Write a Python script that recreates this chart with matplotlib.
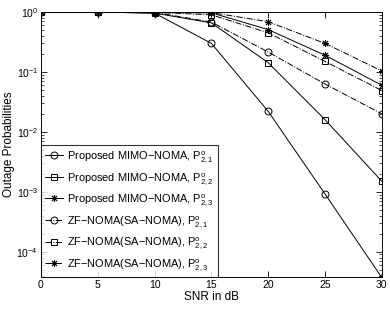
import matplotlib
matplotlib.use("Agg")
import matplotlib.pyplot as plt

plt.rcParams["font.family"] = ["Liberation Sans", "DejaVu Sans"]
plt.rcParams["mathtext.fontset"] = "custom"
plt.rcParams["mathtext.rm"] = "Liberation Sans"

snr = [0, 5, 10, 15, 20, 25, 30]

# Proposed MIMO-NOMA
prop_21 = [1.0, 1.0, 0.96, 0.30, 0.022, 9.2e-4, 3.7e-5]
prop_22 = [1.0, 1.0, 0.96, 0.66, 0.143, 0.016, 1.5e-3]
prop_23 = [1.0, 1.0, 0.98, 0.97, 0.51, 0.19, 0.06]

# ZF-NOMA (SA-NOMA)
zf_21 = [1.0, 1.0, 0.99, 0.68, 0.215, 0.063, 0.020]
zf_22 = [1.0, 1.0, 0.99, 0.90, 0.45, 0.15, 0.049]
zf_23 = [1.0, 1.0, 0.99, 0.98, 0.69, 0.30, 0.104]

labels = [
    r"Proposed MIMO$-$NOMA, $\mathregular{P^{o}_{2,1}}$",
    r"Proposed MIMO$-$NOMA, $\mathregular{P^{o}_{2,2}}$",
    r"Proposed MIMO$-$NOMA, $\mathregular{P^{o}_{2,3}}$",
    r"ZF$-$NOMA(SA$-$NOMA), $\mathregular{P^{o}_{2,1}}$",
    r"ZF$-$NOMA(SA$-$NOMA), $\mathregular{P^{o}_{2,2}}$",
    r"ZF$-$NOMA(SA$-$NOMA), $\mathregular{P^{o}_{2,3}}$",
]

fig = plt.figure(figsize=(3.9, 3.09), dpi=100)
ax = fig.add_axes([0.105, 0.104, 0.874, 0.857])

series = [prop_21, prop_22, prop_23, zf_21, zf_22, zf_23]
markers = ["o", "s", (8, 2, 0), "o", "s", (8, 2, 0)]
styles = ["-", "-", "-", "-.", "-.", "-."]

for y, m, ls, lab in zip(series, markers, styles, labels):
    ax.semilogy(snr, y, color="black", linestyle=ls, linewidth=0.7,
                marker=m, markersize=5 if m != "s" else 4.5,
                markerfacecolor="none", markeredgecolor="black",
                markeredgewidth=0.7, label=lab)

ax.set_xlim(0, 30)
ax.set_ylim(10 ** -4.42, 1)
ax.set_xticks([0, 5, 10, 15, 20, 25, 30])
ax.tick_params(which="both", direction="in", top=True, right=True, labelsize=7.5, pad=2)
ax.tick_params(which="major", length=4, width=0.6)
ax.tick_params(which="minor", length=2, width=0.5)
for s in ax.spines.values():
    s.set_linewidth(0.7)
ax.set_xlabel("SNR in dB", fontsize=8.5, labelpad=1)
ax.set_ylabel("Outage Probabilities", fontsize=8.5, labelpad=1)

leg = ax.legend(loc="lower left", fontsize=7.9, frameon=True, fancybox=False,
                edgecolor="black", borderaxespad=0, handlelength=1.7,
                labelspacing=0.52, borderpad=0.35, handletextpad=0.35)
leg.get_frame().set_linewidth(0.8)

fig.savefig("out.png", dpi=100)
